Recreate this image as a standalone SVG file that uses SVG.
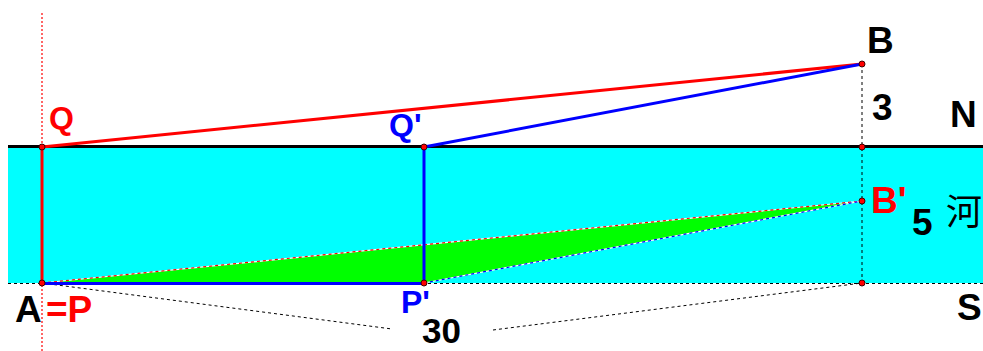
<svg xmlns="http://www.w3.org/2000/svg" width="983" height="351" viewBox="0 0 983 351">
<style>
.t{font-family:"Liberation Sans",Arial,sans-serif;font-weight:bold}
.big{font-size:37px}
.sm{font-size:32px}
.k{fill:#000}.r{fill:#ff0000}.b{fill:#0000ff}
.pt{fill:#ff0000;stroke:#400000;stroke-width:1}
.dot{fill:none;stroke:#000;stroke-width:1;stroke-dasharray:3,3}
</style>
<rect width="983" height="351" fill="#fff"/>
<g id="river">
<rect x="8" y="148" width="975" height="135" fill="#00ffff"/>
<line x1="8" y1="146.5" x2="983" y2="146.5" stroke="#000" stroke-width="3"/>
<line x1="8" y1="283.5" x2="983" y2="283.5" class="dot"/>
</g>
<g id="triangle">
<polygon points="42,283 862,201 424,283" fill="#00ff00"/>
<line x1="42" y1="283" x2="862" y2="201" stroke="#fff" stroke-width="1.2"/>
<line x1="42" y1="283" x2="862" y2="201" stroke="#ff0000" stroke-width="1.2" stroke-dasharray="3,3"/>
<line x1="424" y1="283" x2="862" y2="201" stroke="#fff" stroke-width="1.2"/>
<line x1="424" y1="283" x2="862" y2="201" stroke="#0000ff" stroke-width="1.2" stroke-dasharray="3,3"/>
</g>
<g id="connectors">
<line x1="42" y1="13" x2="42" y2="351" stroke="#ff0000" stroke-width="1.2" stroke-dasharray="2,2"/>
<line x1="862" y1="64" x2="862" y2="283" class="dot"/>
<line x1="42" y1="283" x2="392" y2="329" class="dot"/>
<line x1="493" y1="330" x2="862" y2="283" class="dot"/>
<line x1="42" y1="147" x2="862" y2="64" stroke="#ff0000" stroke-width="3"/>
<line x1="42" y1="147" x2="42" y2="283" stroke="#ff0000" stroke-width="3"/>
<line x1="424" y1="147" x2="862" y2="64" stroke="#0000ff" stroke-width="3"/>
<line x1="424" y1="147" x2="424" y2="283" stroke="#0000ff" stroke-width="3"/>
<line x1="42" y1="283.5" x2="424" y2="283.5" stroke="#0000ff" stroke-width="3"/>
</g>
<g id="points">
<circle class="pt" cx="42" cy="147" r="3"/>
<circle class="pt" cx="42" cy="283" r="3"/>
<circle class="pt" cx="424" cy="147" r="3"/>
<circle class="pt" cx="424" cy="283" r="3"/>
<circle class="pt" cx="862" cy="64" r="3"/>
<circle class="pt" cx="862" cy="147" r="3"/>
<circle class="pt" cx="862" cy="201" r="3"/>
<circle class="pt" cx="862" cy="283" r="3"/>
</g>
<g id="labels">
<text class="t sm r" x="49" y="129">Q</text>
<text class="t sm b" x="389" y="136">Q'</text>
<text class="t sm b" x="401" y="313">P'</text>
<text class="t big k" x="15" y="322">A</text>
<text class="t big r" x="46" y="322">=P</text>
<text class="t k" style="font-size:35px" x="422" y="343">30</text>
<text class="t big k" x="867" y="53">B</text>
<text class="t big k" x="872" y="120">3</text>
<text class="t big k" x="950" y="127">N</text>
<text class="t big r" x="871" y="213">B'</text>
<text class="t big k" x="912" y="235">5</text>
<text x="946" y="225" style="font-family:'Noto Sans CJK SC',sans-serif;font-size:36px;fill:#000">河</text>
<text class="t big k" x="957" y="320">S</text>
</g>
</svg>
